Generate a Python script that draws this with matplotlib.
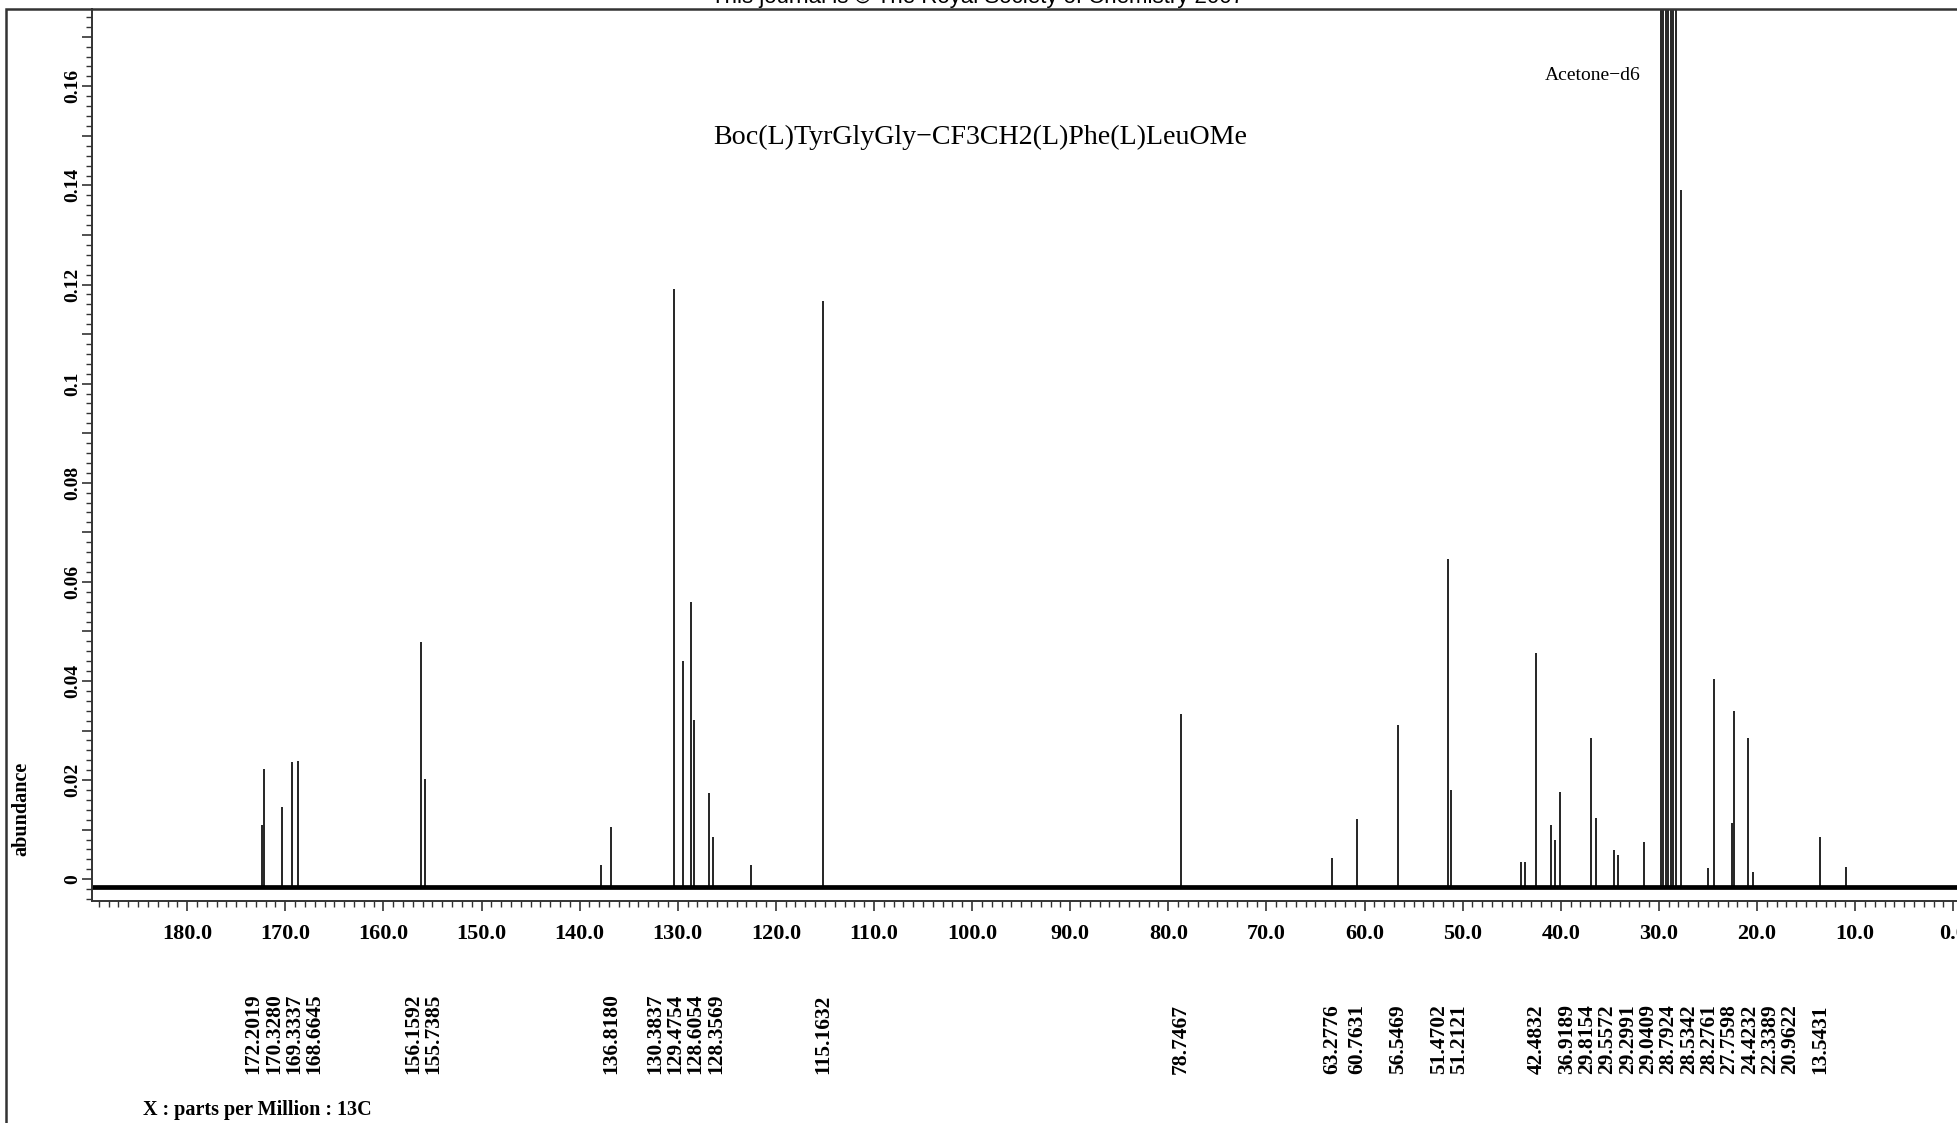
import numpy as np
import matplotlib
matplotlib.use("Agg")
import matplotlib.pyplot as plt
from matplotlib.patches import Rectangle
from matplotlib.ticker import MultipleLocator
import matplotlib.transforms as mtransforms

# ---------------- data ----------------
label_ppm = [172.2019, 170.3280, 169.3337, 168.6645, 156.1592, 155.7385,
             136.8180, 130.3837, 129.4754, 128.6054, 128.3569, 115.1632,
             78.7467, 63.2776, 60.7631, 56.5469, 51.4702, 51.2121,
             42.4832, 36.9189, 29.8154, 29.5572, 29.2991, 29.0409,
             28.7924, 28.5342, 28.2761, 27.7598, 24.4232, 22.3389,
             20.9622, 13.5431]
label_height = [0.0222, 0.0146, 0.0237, 0.0239, 0.0479, 0.0202,
                0.0106, 0.1190, 0.0441, 0.0559, 0.0322, 0.1166,
                0.0333, 0.0043, 0.0121, 0.0312, 0.0647, 0.0181,
                0.0456, 0.0285, 0.30, 0.90, 1.80, 2.10,
                1.80, 0.90, 0.30, 0.1390, 0.0403, 0.0340,
                0.0285, 0.0086]
extra_ppm = [172.35, 137.8, 126.8, 126.4, 122.5, 44.0, 43.6, 41.0, 40.6,
             40.1, 36.4, 34.6, 34.2, 31.5, 25.0, 22.5, 20.4, 10.9]
extra_height = [0.0110, 0.0028, 0.0174, 0.0085, 0.0028, 0.0035, 0.0035,
                0.0110, 0.0080, 0.0176, 0.0123, 0.0058, 0.0048, 0.0076,
                0.0023, 0.0113, 0.0015, 0.0025]
baseline_level = -0.0016

x_ticks = [180, 170, 160, 150, 140, 130, 120, 110, 100, 90, 80, 70, 60,
           50, 40, 30, 20, 10, 0]
x_tick_labels = ["180.0", "170.0", "160.0", "150.0", "140.0", "130.0",
                 "120.0", "110.0", "100.0", "90.0", "80.0", "70.0", "60.0",
                 "50.0", "40.0", "30.0", "20.0", "10.0", "0.0"]
y_ticks = [0, 0.01, 0.02, 0.03, 0.04, 0.05, 0.06, 0.07, 0.08, 0.09, 0.10,
           0.11, 0.12, 0.13, 0.14, 0.15, 0.16, 0.17]
y_tick_labels = ["0", "", "0.02", "", "0.04", "", "0.06", "", "0.08", "",
                 "0.1", "", "0.12", "", "0.14", "", "0.16", ""]

title_text = "Boc(L)TyrGlyGly\u2212CF3CH2(L)Phe(L)LeuOMe"
solvent_text = "Acetone\u2212d6"
header_text = "This journal is \u00a9 The Royal Society of Chemistry 2007"
x_label = "X : parts per Million : 13C"
y_label = "abundance"

# ---------------- figure ----------------
W, H = 1958, 1123
fig = plt.figure(figsize=(W / 100, H / 100), dpi=100)
fig.patch.set_facecolor("white")

serif = ["Liberation Serif", "DejaVu Serif"]
ax = fig.add_axes([92 / W, 1 - 901 / H, (1963 - 92) / W, (901 - 9) / H])
ax.set_xlim(189.7, -1.0)
ax.set_ylim(-0.0044, 0.1756)

spine_col = "#333333"
for s in ["top", "right"]:
    ax.spines[s].set_visible(False)
for s in ["left", "bottom"]:
    ax.spines[s].set_color(spine_col)
    ax.spines[s].set_linewidth(1.4)

# spectrum: baseline + peak sticks
ax.axhline(baseline_level, color="black", lw=3.4, zorder=2)
all_ppm = np.array(label_ppm + extra_ppm)
all_h = np.array(label_height + extra_height)
ax.vlines(all_ppm, baseline_level, all_h, color="black", lw=1.2, zorder=3)

# ticks
ax.set_xticks(x_ticks)
ax.set_xticklabels(x_tick_labels, fontsize=16, fontweight="bold", family=serif)
ax.xaxis.set_minor_locator(MultipleLocator(1))
ax.tick_params(axis="x", which="major", direction="out", length=7.5, width=1.2,
               color=spine_col, pad=9)
ax.tick_params(axis="x", which="minor", direction="out", length=4, width=1.0,
               color=spine_col)

ax.set_yticks(y_ticks)
ax.set_yticklabels(y_tick_labels, fontsize=14, fontweight="bold", family=serif,
                   rotation=90, va="center")
ax.yaxis.set_minor_locator(MultipleLocator(0.002))
ax.tick_params(axis="y", which="major", direction="out", length=7.5, width=1.2,
               color=spine_col, pad=0.5)
ax.tick_params(axis="y", which="minor", direction="out", length=4.5, width=1.0,
               color=spine_col)


# peak labels: spread overlapping labels around their cluster mean
def spread_positions(values, gap):
    vals = list(values)
    groups = [[i] for i in range(len(vals))]

    def place(g):
        c = np.mean([vals[i] for i in g])
        n = len(g)
        return [c - (k - (n - 1) / 2) * gap for k in range(n)]

    changed = True
    while changed:
        changed = False
        for gi in range(len(groups) - 1):
            a = place(groups[gi])
            b = place(groups[gi + 1])
            if a[-1] - b[0] < gap:
                groups[gi] = groups[gi] + groups[gi + 1]
                del groups[gi + 1]
                changed = True
                break
    pos = []
    for g in groups:
        pos.extend(place(g))
    return pos


label_x = spread_positions(label_ppm, 2.07)
blend = mtransforms.blended_transform_factory(ax.transData, fig.transFigure)
for v, xp in zip(label_ppm, label_x):
    ax.text(xp, 1 - 1074 / H, f"{v:.4f}", transform=blend, rotation=90,
            ha="center", va="bottom", fontsize=15.5, fontweight="bold",
            family=serif, clip_on=False)

# texts
fig.text(980 / W, 1 - 137 / H, title_text, ha="center", va="center",
         fontsize=20.2, family=serif)
fig.text(1545 / W, 1 - 76 / H, solvent_text, ha="left", va="center",
         fontsize=14, family=serif)
fig.text(143 / W, 1 - 1110 / H, x_label, ha="left", va="center",
         fontsize=14.5, fontweight="bold", family=serif)
fig.text(21 / W, 1 - 809 / H, y_label, ha="center", va="center", rotation=90,
         fontsize=14.5, fontweight="bold", family=serif)
fig.text(978 / W, 1 - 3 / H, header_text, ha="center", va="baseline",
         fontsize=16, family=["Liberation Sans Narrow", "Liberation Sans", "DejaVu Sans"])

# outer frame
fig.add_artist(Rectangle((6 / W, -0.2), 1.5, (1 - 9 / H) + 0.2,
                         transform=fig.transFigure, fill=False, lw=1.8,
                         ec=spine_col, zorder=10))

fig.savefig("out.png", dpi=100)
